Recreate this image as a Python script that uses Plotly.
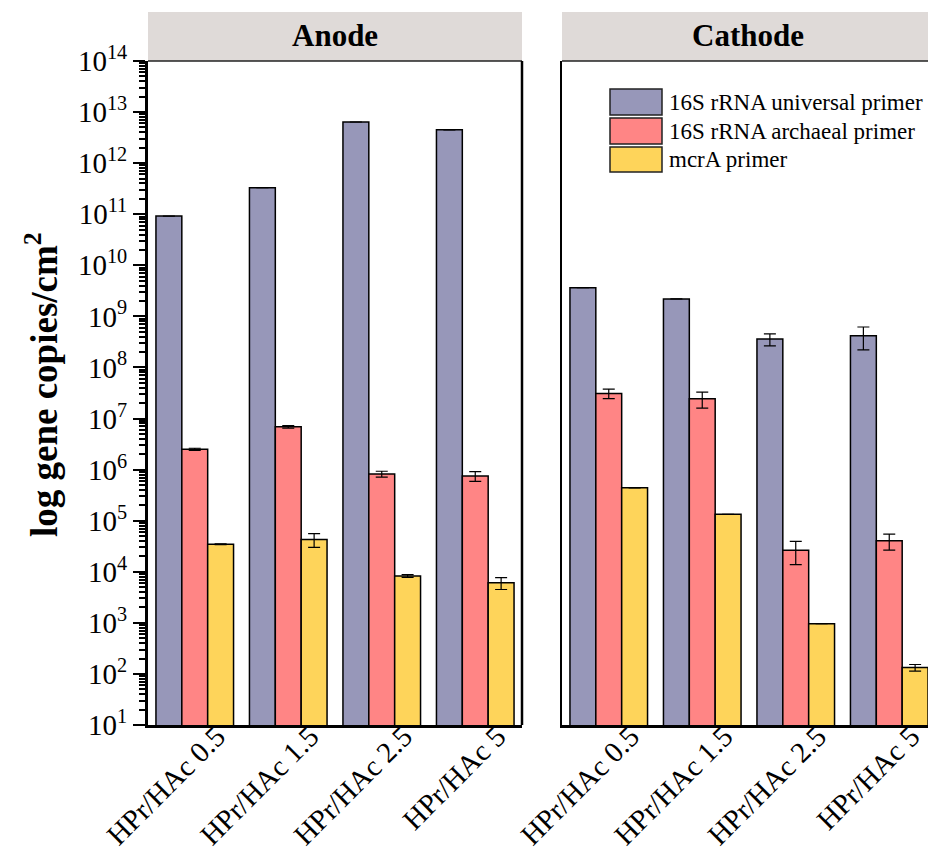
import plotly.graph_objects as go

categories = ["HPr/HAc 0.5", "HPr/HAc 1.5", "HPr/HAc 2.5", "HPr/HAc 5"]
series_names = ["16S rRNA universal primer", "16S rRNA archaeal primer", "mcrA primer"]

anode_universal = [9.2e10, 3.3e11, 6.4e12, 4.5e12]
anode_universal_err = [0, 0, 0, 0]
anode_archaeal = [2.5e6, 6.9e6, 8.2e5, 7.5e5]
anode_archaeal_err = [1.2e5, 4e5, 1.1e5, 1.6e5]
anode_mcra = [3.45e4, 4.3e4, 8.3e3, 6.1e3]
anode_mcra_err = [7e2, 1.3e4, 5e2, 1.6e3]

cathode_universal = [3.65e9, 2.2e9, 3.6e8, 4.2e8]
cathode_universal_err = [0, 0, 9.5e7, 2.0e8]
cathode_archaeal = [3.1e7, 2.45e7, 2.65e4, 4.05e4]
cathode_archaeal_err = [6.5e6, 8.5e6, 1.27e4, 1.4e4]
cathode_mcra = [4.4e5, 1.33e5, 9.6e2, 1.33e2]
cathode_mcra_err = [0, 0, 0, 2e1]

exponents = list(range(1, 15))
tick_values = [10 ** k for k in exponents]
tick_labels = ["10<sup>%d</sup>" % k for k in exponents]

y_title = "<b>log gene copies/cm<sup>2</sup></b>"

colors = ["#9797b9", "#ff8585", "#fed45a"]
FONT = "Liberation Serif, Times New Roman, serif"

W, H = 928, 852
ML, MR, MT, MB = 148, 0, 61, 127
PW = W - ML - MR
PH = H - MT - MB


def px_x(x):
    return (x - ML) / PW


def px_y(y):
    return (H - MB - y) / PH


left_dom = [0, px_x(522)]
right_dom = [px_x(562), 1]

fig = go.Figure()

panels = [
    ("x", "y", [anode_universal, anode_archaeal, anode_mcra],
     [anode_universal_err, anode_archaeal_err, anode_mcra_err]),
    ("x2", "y2", [cathode_universal, cathode_archaeal, cathode_mcra],
     [cathode_universal_err, cathode_archaeal_err, cathode_mcra_err]),
]
for xa, ya, vals, errs in panels:
    for name, v, e, c in zip(series_names, vals, errs, colors):
        fig.add_trace(go.Bar(
            x=categories, y=v, name=name, xaxis=xa, yaxis=ya,
            marker=dict(color=c, line=dict(color="black", width=1.5)),
            error_y=dict(type="data", array=e, visible=True, color="black",
                         thickness=1.2, width=6),
            showlegend=False,
        ))

band = (522 - 148) / 4.0
right_span = (W - 562) / band

yax_common = dict(
    type="log", range=[1, 14], tickvals=tick_values, ticktext=tick_labels,
    showgrid=False, zeroline=False, automargin=False,
)
xax_common = dict(
    showline=True, linewidth=3, linecolor="black", ticks="", tickangle=-45,
    tickfont=dict(size=29, family=FONT), showgrid=False, automargin=False,
    ticklabelshift=22, ticklabelstandoff=-20,
)

fig.update_layout(
    width=W, height=H,
    margin=dict(l=ML, r=MR, t=MT, b=MB, pad=0, autoexpand=False),
    paper_bgcolor="white", plot_bgcolor="white",
    barmode="group", bargap=0.17, bargroupgap=0.0,
    font=dict(family=FONT, color="black"),
    xaxis=dict(**xax_common, domain=left_dom, range=[-0.5, 3.5]),
    xaxis2=dict(**xax_common, domain=right_dom, range=[-0.5, -0.5 + right_span],
                anchor="y2"),
    yaxis=dict(**yax_common, domain=[0, 1], showline=True, linewidth=3,
               linecolor="black", ticks="outside", ticklen=12, tickwidth=2,
               tickcolor="black", tickfont=dict(size=29, family=FONT),
               minor=dict(ticks="outside", ticklen=6, tickwidth=1.5,
                          tickcolor="black", dtick="D1", showgrid=False)),
    yaxis2=dict(**yax_common, domain=[0, 1], anchor="x2", showline=True,
                linewidth=2, linecolor="black", ticks="", showticklabels=False),
)

shapes = []
# strip headers
for x0, x1 in [(left_dom[0], left_dom[1]), (right_dom[0], right_dom[1])]:
    shapes.append(dict(type="rect", xref="paper", yref="paper", x0=x0, x1=x1,
                       y0=1, y1=px_y(12), fillcolor="#dfdad8",
                       line=dict(width=0), layer="below"))
    shapes.append(dict(type="line", xref="paper", yref="paper", x0=x0, x1=x1,
                       y0=1, y1=1, line=dict(color="#222222", width=1.5)))
# right border of the left panel
shapes.append(dict(type="line", xref="paper", yref="paper", x0=left_dom[1],
                   x1=left_dom[1], y0=0, y1=1, line=dict(color="black", width=2.5)))

annotations = [
    dict(text="<b>Anode</b>", xref="paper", yref="paper",
         x=(left_dom[0] + left_dom[1]) / 2, y=px_y(36), showarrow=False,
         font=dict(size=31, family=FONT), xanchor="center", yanchor="middle"),
    dict(text="<b>Cathode</b>", xref="paper", yref="paper",
         x=px_x(748), y=px_y(36), showarrow=False,
         font=dict(size=31, family=FONT), xanchor="center", yanchor="middle"),
    dict(text=y_title, xref="paper", yref="paper", textangle=-90,
         x=px_x(41), y=px_y(384), showarrow=False,
         xanchor="center", yanchor="middle", font=dict(size=37, family=FONT)),
]

# custom legend
leg_rows = [(89, 115), (118, 144), (147, 172)]
for (y0, y1), name, c in zip(leg_rows, series_names, colors):
    shapes.append(dict(type="rect", xref="paper", yref="paper",
                       x0=px_x(610), x1=px_x(662), y0=px_y(y1), y1=px_y(y0),
                       fillcolor=c, line=dict(color="#222222", width=1.5)))
    annotations.append(dict(text=name, xref="paper", yref="paper",
                            x=px_x(667), y=px_y((y0 + y1) / 2), showarrow=False,
                            xanchor="left", yanchor="middle",
                            font=dict(size=23, family=FONT)))

fig.update_layout(shapes=shapes, annotations=annotations)

fig.write_html("out.html")
